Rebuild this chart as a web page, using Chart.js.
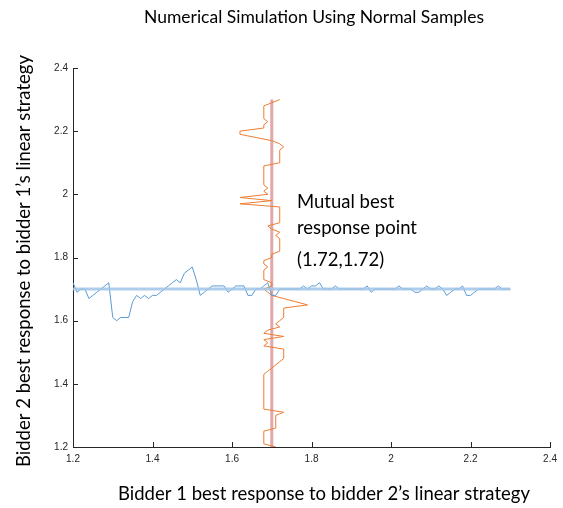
<!DOCTYPE html>
<html><head><meta charset="utf-8">
<script src="https://cdn.jsdelivr.net/npm/chart.js@4/dist/chart.umd.min.js"></script>
<style>html,body{margin:0;padding:0;background:#fff}#wrap{width:563px;height:508px;position:relative}</style>
</head><body><div id="wrap"><canvas id="c" width="563" height="508"></canvas></div>
<script>
// grid of strategy values (shared by both response curves)
const gridValues = [
 1.20,1.21,1.22,1.23,1.24,1.25,1.26,1.27,1.28,1.29,
 1.30,1.31,1.32,1.33,1.34,1.35,1.36,1.37,1.38,1.39,
 1.40,1.41,1.42,1.43,1.44,1.45,1.46,1.47,1.48,1.49,
 1.50,1.51,1.52,1.53,1.54,1.55,1.56,1.57,1.58,1.59,
 1.60,1.61,1.62,1.63,1.64,1.65,1.66,1.67,1.68,1.69,
 1.70,1.71,1.72,1.73,1.74,1.75,1.76,1.77,1.78,1.79,
 1.80,1.81,1.82,1.83,1.84,1.85,1.86,1.87,1.88,1.89,
 1.90,1.91,1.92,1.93,1.94,1.95,1.96,1.97,1.98,1.99,
 2.00,2.01,2.02,2.03,2.04,2.05,2.06,2.07,2.08,2.09,
 2.10,2.11,2.12,2.13,2.14,2.15,2.16,2.17,2.18,2.19,
 2.20,2.21,2.22,2.23,2.24,2.25,2.26,2.27,2.28,2.29,
 2.30];
// bidder 2 best response (y) to bidder 1 strategy (x = gridValues)
const bidder2Response = [
 1.72,1.69,1.70,1.70,1.67,1.68,1.69,1.70,1.71,1.72,
 1.61,1.60,1.61,1.61,1.61,1.66,1.68,1.67,1.68,1.67,
 1.68,1.68,1.69,1.70,1.71,1.72,1.73,1.72,1.75,1.76,
 1.77,1.73,1.68,1.69,1.70,1.71,1.71,1.71,1.71,1.69,
 1.70,1.71,1.71,1.71,1.68,1.68,1.70,1.70,1.71,1.72,
 1.68,1.68,1.70,1.70,1.70,1.70,1.70,1.70,1.71,1.70,
 1.71,1.71,1.72,1.70,1.70,1.70,1.71,1.70,1.70,1.70,
 1.70,1.70,1.70,1.70,1.71,1.69,1.70,1.70,1.70,1.70,
 1.70,1.70,1.71,1.70,1.70,1.70,1.69,1.69,1.70,1.71,
 1.70,1.70,1.71,1.70,1.68,1.69,1.70,1.70,1.71,1.68,
 1.68,1.69,1.70,1.70,1.70,1.70,1.70,1.71,1.70,1.70,
 1.70];
// bidder 1 best response (x) to bidder 2 strategy (y = gridValues)
const bidder1Response = [
 1.71,1.68,1.68,1.68,1.68,1.68,1.71,1.71,1.71,1.71,
 1.71,1.73,1.68,1.68,1.68,1.68,1.68,1.68,1.68,1.68,
 1.68,1.68,1.68,1.68,1.69,1.70,1.71,1.72,1.73,1.73,
 1.73,1.73,1.68,1.69,1.68,1.73,1.68,1.69,1.72,1.71,
 1.72,1.73,1.73,1.73,1.73,1.79,1.76,1.73,1.70,1.69,
 1.68,1.70,1.70,1.68,1.68,1.68,1.68,1.69,1.68,1.68,
 1.70,1.70,1.72,1.72,1.72,1.72,1.72,1.71,1.72,1.70,
 1.69,1.72,1.72,1.72,1.72,1.72,1.72,1.62,1.70,1.62,
 1.69,1.68,1.69,1.68,1.68,1.68,1.68,1.68,1.68,1.68,
 1.72,1.72,1.72,1.72,1.72,1.73,1.72,1.70,1.66,1.62,
 1.62,1.68,1.68,1.69,1.68,1.68,1.68,1.68,1.68,1.70,
 1.72];
const equilibriumValue = 1.70;
const referenceSpan = [1.20, 2.30];
const tickValues = [1.2, 1.4, 1.6, 1.8, 2.0, 2.2, 2.4];
const titleText = "Numerical Simulation Using Normal Samples";
const xTitleText = "Bidder 1 best response to bidder 2\u2019s linear strategy";
const yTitleText = "Bidder 2 best response to bidder 1\u2019s linear strategy";
const annotationLines = ["Mutual best", "response point", "(1.72,1.72)"];

const blueCurve = gridValues.map((v, i) => ({x: v, y: bidder2Response[i]}));
const orangeCurve = gridValues.map((v, i) => ({x: bidder1Response[i], y: v}));
const hLine = referenceSpan.map(v => ({x: v, y: equilibriumValue}));
const vLine = referenceSpan.map(v => ({x: equilibriumValue, y: v}));

const TXT = 'Lato, "Open Sans", sans-serif';
const textPlugin = {
  id: 'texts',
  afterDraw(chart) {
    const ctx = chart.ctx;
    const xs = chart.scales.x, ys = chart.scales.y;
    ctx.save();
    // inward ticks
    ctx.strokeStyle = '#262626'; ctx.lineWidth = 1;
    ctx.beginPath();
    tickValues.forEach(v => {
      const px = Math.round(xs.getPixelForValue(v)) + 0.5;
      ctx.moveTo(px, ys.bottom); ctx.lineTo(px, ys.bottom - 5);
      const py = Math.round(ys.getPixelForValue(v)) + 0.5;
      ctx.moveTo(xs.left, py); ctx.lineTo(xs.left + 5, py);
    });
    ctx.stroke();
    ctx.fillStyle = '#000';
    ctx.textBaseline = 'middle';
    ctx.textAlign = 'center';
    ctx.font = '17.5px ' + TXT;
    ctx.fillText(titleText, 314, 17);
    ctx.font = '18.5px ' + TXT;
    ctx.fillText(xTitleText, 324, 494);
    ctx.save();
    ctx.translate(24, 261);
    ctx.rotate(-Math.PI / 2);
    ctx.fillText(yTitleText, 0, 0);
    ctx.restore();
    ctx.textAlign = 'left';
    ctx.font = '18.5px ' + TXT;
    const ys2 = [202, 228, 260];
    annotationLines.forEach((t, i) => ctx.fillText(t, 297, ys2[i]));
    ctx.restore();
  }
};

const tickFont = {family: '"Liberation Sans", Arial, sans-serif', size: 10};
new Chart(document.getElementById('c'), {
  type: 'scatter',
  data: {
    datasets: [
      {data: hLine, showLine: true, borderColor: 'rgba(160,196,230,0.85)', borderWidth: 3, pointRadius: 0},
      {data: blueCurve, showLine: true, borderColor: '#5b9bd5', borderWidth: 1, pointRadius: 0},
      {data: orangeCurve, showLine: true, borderColor: '#ed7d31', borderWidth: 1, pointRadius: 0},
      {data: vLine, showLine: true, borderColor: 'rgba(196,80,85,0.5)', borderWidth: 3, pointRadius: 0}
    ]
  },
  options: {
    responsive: false, animation: false, devicePixelRatio: 1,
    layout: {padding: {top: 68, right: 8, left: 0, bottom: 0}, autoPadding: false},
    plugins: {legend: {display: false}, tooltip: {enabled: false}},
    scales: {
      x: {
        type: 'linear', min: 1.2, max: 2.4,
        afterBuildTicks: s => { s.ticks = tickValues.map(v => ({value: v})); },
        afterFit: s => { s.height = 61; },
        grid: {display: false, drawTicks: false},
        border: {display: true, color: '#262626', width: 1},
        ticks: {font: tickFont, color: '#262626', padding: 6, maxRotation: 0, autoSkip: false,
                callback: v => String(Math.round(v * 10) / 10)}
      },
      y: {
        type: 'linear', min: 1.2, max: 2.4,
        afterBuildTicks: s => { s.ticks = tickValues.map(v => ({value: v})); },
        afterFit: s => { s.width = 73; },
        grid: {display: false, drawTicks: false},
        border: {display: true, color: '#262626', width: 1},
        ticks: {font: tickFont, color: '#262626', padding: 5, autoSkip: false,
                callback: v => String(Math.round(v * 10) / 10)}
      }
    }
  },
  plugins: [textPlugin]
});
</script></body></html>
